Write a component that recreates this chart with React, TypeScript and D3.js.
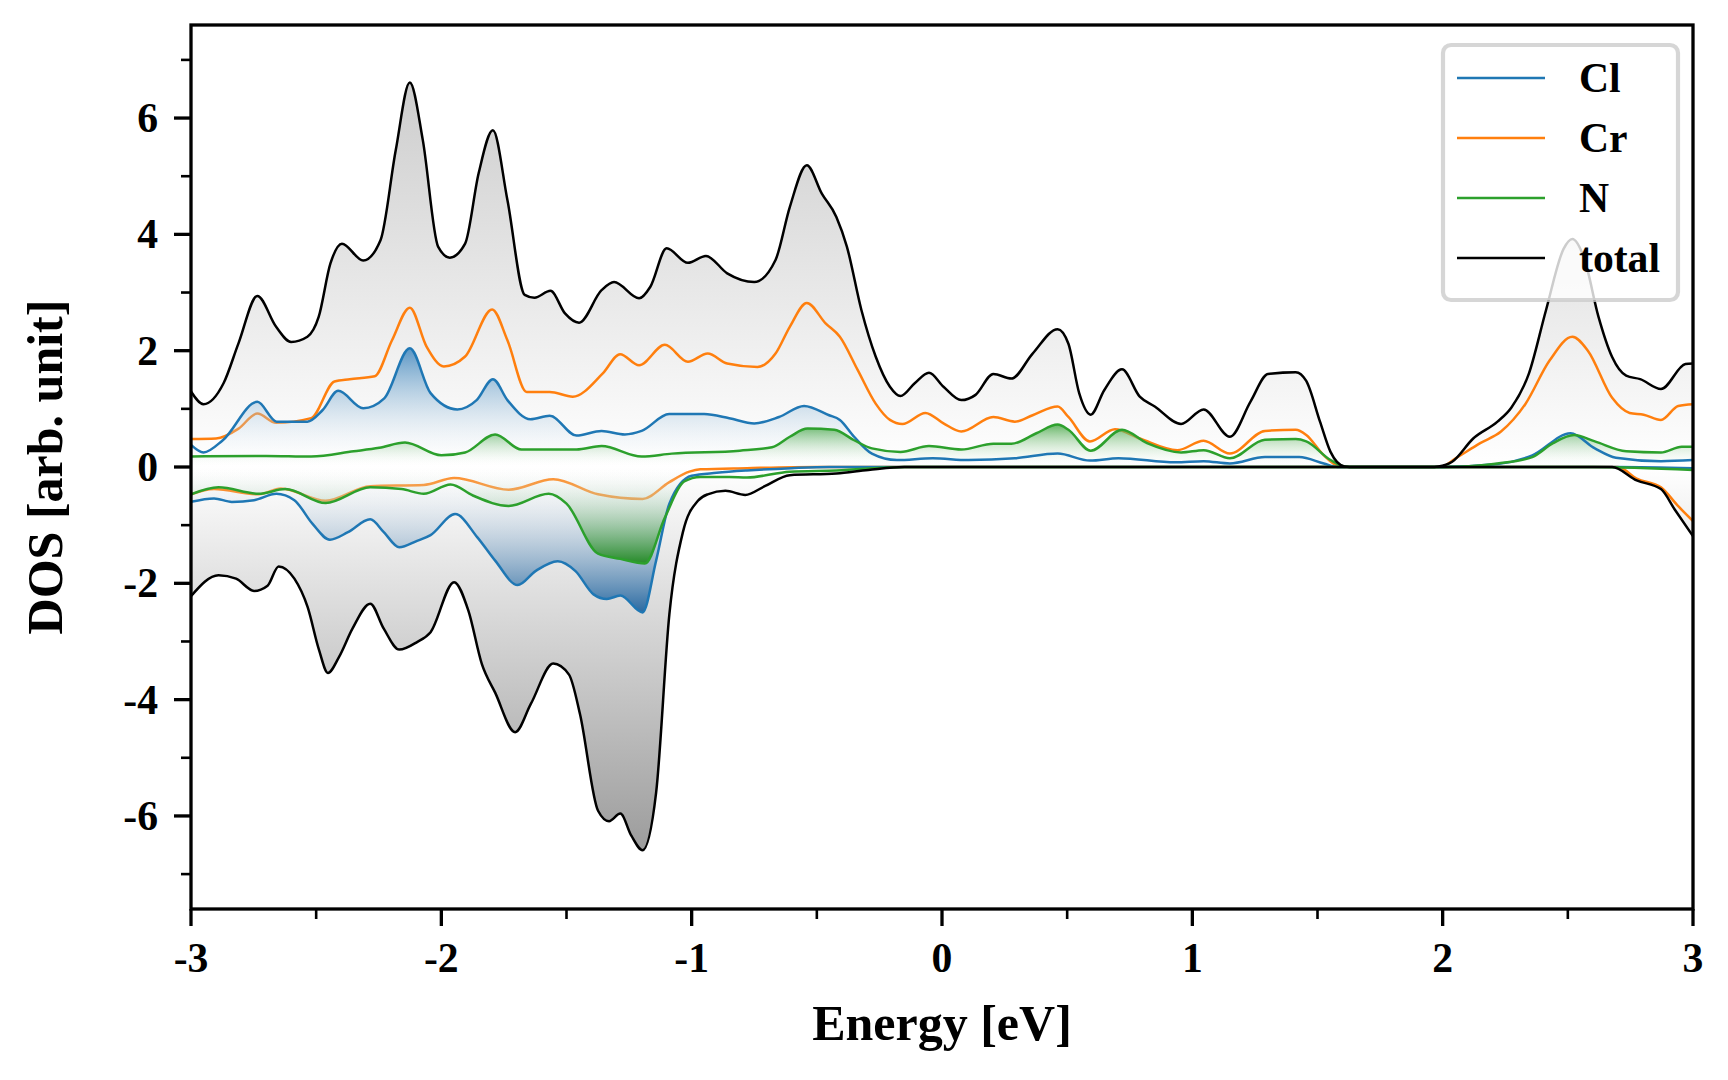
import * as d3 from "d3";

type Pt = [number, number];

// energies [eV] and DOS values
const totalUp: Pt[] = [
  [-3.0, 1.3], [-2.95, 1.08], [-2.87, 1.44], [-2.81, 2.13], [-2.735, 2.94], [-2.66, 2.41],
  [-2.6, 2.15], [-2.535, 2.24], [-2.49, 2.58], [-2.443, 3.5], [-2.397, 3.84], [-2.312, 3.55],
  [-2.243, 3.9], [-2.182, 5.45], [-2.126, 6.61], [-2.074, 5.62], [-2.013, 3.79], [-1.966, 3.6],
  [-1.905, 3.84], [-1.851, 5.05], [-1.794, 5.79], [-1.736, 4.59], [-1.667, 2.96], [-1.628, 2.91],
  [-1.564, 3.03], [-1.506, 2.64], [-1.45, 2.48], [-1.36, 3.04], [-1.31, 3.18], [-1.21, 2.9],
  [-1.165, 3.1], [-1.1, 3.76], [-1.015, 3.51], [-0.943, 3.63], [-0.858, 3.33], [-0.75, 3.18],
  [-0.665, 3.56], [-0.608, 4.47], [-0.54, 5.19], [-0.48, 4.7], [-0.422, 4.3], [-0.38, 3.79],
  [-0.322, 2.7], [-0.265, 1.9], [-0.208, 1.38], [-0.166, 1.22], [-0.109, 1.44], [-0.052, 1.62],
  [0.006, 1.38], [0.077, 1.15], [0.134, 1.24], [0.205, 1.6], [0.277, 1.52], [0.362, 1.95],
  [0.462, 2.37], [0.505, 2.12], [0.548, 1.27], [0.594, 0.9], [0.648, 1.32], [0.719, 1.68],
  [0.79, 1.21], [0.85, 1.04], [0.955, 0.74], [1.045, 0.99], [1.15, 0.52], [1.233, 1.13],
  [1.302, 1.6], [1.413, 1.63], [1.455, 1.48], [1.51, 0.78], [1.552, 0.26], [1.608, 0.01],
  [1.65, 0], [1.95, 0], [1.983, 0.01], [2.038, 0.09], [2.122, 0.49], [2.219, 0.78],
  [2.274, 1.02], [2.344, 1.6], [2.413, 2.7], [2.483, 3.75], [2.518, 3.92], [2.566, 3.58],
  [2.622, 2.59], [2.677, 1.89], [2.733, 1.57], [2.789, 1.51], [2.872, 1.34], [2.97, 1.77],
  [3.0, 1.78],
];

const totalDown: Pt[] = [
  [-3.0, -2.22], [-2.89, -1.86], [-2.82, -1.92], [-2.748, -2.13], [-2.694, -2.04], [-2.65, -1.71],
  [-2.587, -1.92], [-2.534, -2.41], [-2.489, -3.14], [-2.453, -3.54], [-2.409, -3.27],
  [-2.355, -2.78], [-2.284, -2.35], [-2.23, -2.78], [-2.168, -3.14], [-2.097, -3.01],
  [-2.043, -2.84], [-1.949, -1.98], [-1.892, -2.47], [-1.838, -3.39], [-1.785, -3.88],
  [-1.705, -4.56], [-1.642, -4.07], [-1.553, -3.38], [-1.49, -3.57], [-1.446, -4.25],
  [-1.374, -5.91], [-1.33, -6.09], [-1.285, -5.96], [-1.241, -6.34], [-1.196, -6.59],
  [-1.142, -5.6], [-1.089, -2.53], [-1.035, -1.12], [-0.975, -0.58], [-0.936, -0.47],
  [-0.865, -0.41], [-0.786, -0.48], [-0.708, -0.33], [-0.608, -0.14], [-0.422, -0.11],
  [-0.294, -0.05], [-0.15, 0], [2.677, 0], [2.775, -0.23], [2.872, -0.38], [2.927, -0.73],
  [3.0, -1.19],
];

const crUp: Pt[] = [
  [-3.0, 0.48], [-2.9, 0.49], [-2.81, 0.66], [-2.735, 0.92], [-2.66, 0.76], [-2.52, 0.84],
  [-2.427, 1.47], [-2.366, 1.51], [-2.266, 1.56], [-2.197, 2.18], [-2.126, 2.74], [-2.059, 2.07],
  [-1.99, 1.73], [-1.905, 1.9], [-1.797, 2.71], [-1.736, 2.18], [-1.659, 1.29], [-1.567, 1.29],
  [-1.475, 1.21], [-1.355, 1.61], [-1.286, 1.94], [-1.21, 1.75], [-1.107, 2.1], [-1.015, 1.81],
  [-0.936, 1.95], [-0.858, 1.78], [-0.737, 1.72], [-0.665, 1.95], [-0.608, 2.41], [-0.54, 2.82],
  [-0.465, 2.47], [-0.408, 2.24], [-0.337, 1.67], [-0.265, 1.09], [-0.208, 0.81], [-0.158, 0.74],
  [-0.066, 0.93], [0.006, 0.75], [0.077, 0.61], [0.205, 0.86], [0.291, 0.78], [0.362, 0.89],
  [0.462, 1.04], [0.505, 0.86], [0.591, 0.44], [0.691, 0.65], [0.79, 0.49], [0.94, 0.29],
  [1.045, 0.45], [1.15, 0.23], [1.29, 0.62], [1.413, 0.64], [1.455, 0.55], [1.525, 0.2],
  [1.587, 0.01], [1.63, 0], [1.96, 0], [1.997, 0.01], [2.052, 0.15], [2.15, 0.41], [2.233, 0.61],
  [2.33, 1.08], [2.427, 1.83], [2.518, 2.24], [2.58, 2.0], [2.677, 1.19], [2.747, 0.93],
  [2.803, 0.9], [2.872, 0.81], [2.941, 1.05], [3.0, 1.08],
];

const crDown: Pt[] = [
  [-3.0, -0.47], [-2.908, -0.38], [-2.73, -0.47], [-2.641, -0.37], [-2.462, -0.58],
  [-2.284, -0.33], [-2.07, -0.31], [-1.949, -0.19], [-1.731, -0.39], [-1.553, -0.21],
  [-1.374, -0.47], [-1.196, -0.55], [-1.089, -0.26], [-1.009, -0.08], [-0.965, -0.04],
  [-0.779, -0.02], [-0.5, 0], [2.7, 0], [2.775, -0.2], [2.872, -0.35], [2.94, -0.67],
  [3.0, -0.93],
];

const clUp: Pt[] = [
  [-3.0, 0.38], [-2.95, 0.25], [-2.873, 0.46], [-2.735, 1.12], [-2.658, 0.78], [-2.535, 0.78],
  [-2.474, 0.98], [-2.412, 1.31], [-2.312, 1.01], [-2.228, 1.18], [-2.126, 2.04], [-2.043, 1.27],
  [-1.936, 0.99], [-1.859, 1.15], [-1.794, 1.51], [-1.736, 1.15], [-1.644, 0.82], [-1.567, 0.88],
  [-1.46, 0.54], [-1.36, 0.62], [-1.267, 0.56], [-1.2, 0.62], [-1.09, 0.91], [-0.95, 0.91],
  [-0.85, 0.84], [-0.75, 0.75], [-0.651, 0.86], [-0.551, 1.05], [-0.451, 0.89], [-0.408, 0.81],
  [-0.351, 0.52], [-0.28, 0.23], [-0.18, 0.12], [-0.037, 0.15], [0.105, 0.12], [0.291, 0.15],
  [0.462, 0.23], [0.591, 0.11], [0.705, 0.15], [0.933, 0.08], [1.045, 0.1], [1.15, 0.06],
  [1.29, 0.17], [1.427, 0.17], [1.525, 0.06], [1.58, 0], [2.0, 0], [2.219, 0.05], [2.358, 0.2],
  [2.511, 0.58], [2.608, 0.32], [2.692, 0.16], [2.872, 0.1], [3.0, 0.12],
];

const clDown: Pt[] = [
  [-3.0, -0.6], [-2.908, -0.54], [-2.837, -0.6], [-2.748, -0.57], [-2.659, -0.46],
  [-2.587, -0.57], [-2.516, -0.97], [-2.445, -1.25], [-2.373, -1.12], [-2.284, -0.9],
  [-2.23, -1.12], [-2.168, -1.38], [-2.097, -1.27], [-2.043, -1.17], [-1.945, -0.81],
  [-1.856, -1.21], [-1.785, -1.61], [-1.695, -2.03], [-1.624, -1.79], [-1.535, -1.62],
  [-1.464, -1.79], [-1.392, -2.19], [-1.339, -2.27], [-1.285, -2.21], [-1.196, -2.5],
  [-1.142, -1.61], [-1.089, -0.63], [-1.0, -0.15], [-0.9, -0.1], [-0.779, -0.06], [-0.6, -0.02],
  [-0.45, 0], [2.7, 0], [3.0, -0.02],
];

const nUp: Pt[] = [
  [-3.0, 0.18], [-2.7, 0.19], [-2.52, 0.18], [-2.35, 0.27], [-2.248, 0.33], [-2.145, 0.42],
  [-2.0, 0.2], [-1.905, 0.25], [-1.785, 0.56], [-1.68, 0.3], [-1.567, 0.3], [-1.46, 0.3],
  [-1.36, 0.36], [-1.2, 0.18], [-1.079, 0.23], [-0.808, 0.28], [-0.679, 0.34], [-0.608, 0.52],
  [-0.537, 0.66], [-0.43, 0.64], [-0.351, 0.46], [-0.28, 0.32], [-0.166, 0.26], [-0.052, 0.36],
  [0.077, 0.3], [0.205, 0.4], [0.277, 0.4], [0.377, 0.58], [0.462, 0.73], [0.505, 0.64],
  [0.594, 0.28], [0.719, 0.64], [0.819, 0.41], [0.955, 0.25], [1.045, 0.29], [1.15, 0.15],
  [1.29, 0.47], [1.413, 0.48], [1.455, 0.44], [1.552, 0.12], [1.608, 0.01], [1.65, 0],
  [2.02, 0], [2.219, 0.06], [2.358, 0.17], [2.441, 0.41], [2.525, 0.55], [2.608, 0.44],
  [2.733, 0.27], [2.872, 0.25], [2.955, 0.35], [3.0, 0.35],
];

const nDown: Pt[] = [
  [-3.0, -0.47], [-2.89, -0.35], [-2.73, -0.46], [-2.623, -0.38], [-2.462, -0.62],
  [-2.284, -0.35], [-2.159, -0.38], [-2.07, -0.46], [-1.963, -0.3], [-1.874, -0.49],
  [-1.731, -0.67], [-1.571, -0.46], [-1.5, -0.63], [-1.374, -1.49], [-1.285, -1.58],
  [-1.187, -1.66], [-1.107, -0.87], [-1.03, -0.25], [-0.965, -0.17], [-0.85, -0.17],
  [-0.779, -0.18], [-0.608, -0.08], [-0.422, -0.06], [-0.15, 0], [2.6, 0], [3.0, -0.05],
];

const legendNames = ["Cl", "Cr", "N", "total"];
const legendColors = ["#1f77b4", "#ff7f0e", "#2ca02c", "#000000"];

const xTicks = [-3, -2, -1, 0, 1, 2, 3];
const xMinor = [-2.5, -1.5, -0.5, 0.5, 1.5, 2.5];
const yTicks = [-6, -4, -2, 0, 2, 4, 6];
const yMinor = [-7, -5, -3, -1, 1, 3, 5, 7];

const W = 1728;
const H = 1080;
const plot = { left: 191, right: 1693, top: 25, bottom: 909 };
const font = "'Liberation Serif', 'Times New Roman', serif";

export default function App() {
  const x = d3.scaleLinear().domain([-3, 3]).range([plot.left, plot.right]);
  const y = d3.scaleLinear().domain([-7.6, 7.6]).range([plot.bottom, plot.top]);

  const line = d3
    .line<Pt>()
    .x((d) => x(d[0]))
    .y((d) => y(d[1]))
    .curve(d3.curveMonotoneX);
  const area = d3
    .area<Pt>()
    .x((d) => x(d[0]))
    .y0(y(0))
    .y1((d) => y(d[1]))
    .curve(d3.curveMonotoneX);

  const ext = (data: Pt[], up: boolean) =>
    up ? d3.max(data, (d) => d[1]) ?? 1 : d3.min(data, (d) => d[1]) ?? -1;

  const grads = [
    { id: "gTotUp", data: totalUp, up: true, c0: "#ffffff", o0: 1, c1: "#cdcdcd", o1: 1 },
    { id: "gTotDn", data: totalDown, up: false, c0: "#ffffff", o0: 1, c1: "#9c9c9c", o1: 1 },
    { id: "gClUp", data: clUp, up: true, c0: "#ffffff", o0: 0, c1: "#3f86bd", o1: 0.85 },
    { id: "gClDn", data: clDown, up: false, c0: "#ffffff", o0: 0, c1: "#2466a0", o1: 0.97 },
    { id: "gNUp", data: nUp, up: true, c0: "#ffffff", o0: 0, c1: "#3fa43f", o1: 0.8 },
    { id: "gNDn", data: nDown, up: false, c0: "#ffffff", o0: 0, c1: "#238a23", o1: 0.97 },
  ];

  const lw = 2.5;
  const spine = 3.3;

  return (
    <svg
      width={W}
      height={H}
      style={{ position: "absolute", left: 0, top: 0, background: "#fff" }}
      fontFamily={font}
      fontWeight="bold"
    >
      <defs>
        {grads.map((g) => (
          <linearGradient
            key={g.id}
            id={g.id}
            gradientUnits="userSpaceOnUse"
            x1={0}
            x2={0}
            y1={y(0)}
            y2={y(ext(g.data, g.up))}
          >
            <stop offset="0" stopColor={g.c0} stopOpacity={g.o0} />
            <stop offset="1" stopColor={g.c1} stopOpacity={g.o1} />
          </linearGradient>
        ))}
        <clipPath id="plotClip">
          <rect x={plot.left} y={plot.top} width={plot.right - plot.left} height={plot.bottom - plot.top} />
        </clipPath>
      </defs>

      <g clipPath="url(#plotClip)">
        <path d={area(totalUp) ?? ""} fill="url(#gTotUp)" />
        <path d={area(totalDown) ?? ""} fill="url(#gTotDn)" />
        <path d={line(crUp) ?? ""} fill="none" stroke={legendColors[1]} strokeWidth={lw} />
        <path d={line(crDown) ?? ""} fill="none" stroke={legendColors[1]} strokeWidth={lw} />
        <path d={area(clUp) ?? ""} fill="url(#gClUp)" />
        <path d={area(clDown) ?? ""} fill="url(#gClDn)" />
        <path d={area(nUp) ?? ""} fill="url(#gNUp)" />
        <path d={area(nDown) ?? ""} fill="url(#gNDn)" />
        <path d={line(clUp) ?? ""} fill="none" stroke={legendColors[0]} strokeWidth={lw} />
        <path d={line(clDown) ?? ""} fill="none" stroke={legendColors[0]} strokeWidth={lw} />
        <path d={line(nUp) ?? ""} fill="none" stroke={legendColors[2]} strokeWidth={lw} />
        <path d={line(nDown) ?? ""} fill="none" stroke={legendColors[2]} strokeWidth={lw} />
        <path d={line(totalUp) ?? ""} fill="none" stroke="#000" strokeWidth={lw} />
        <path d={line(totalDown) ?? ""} fill="none" stroke="#000" strokeWidth={lw} />
      </g>

      {/* ticks */}
      <g stroke="#000">
        {xTicks.map((t) => (
          <line key={`xt${t}`} x1={x(t)} x2={x(t)} y1={plot.bottom} y2={plot.bottom + 17} strokeWidth={spine} />
        ))}
        {xMinor.map((t) => (
          <line key={`xm${t}`} x1={x(t)} x2={x(t)} y1={plot.bottom} y2={plot.bottom + 10} strokeWidth={2.6} />
        ))}
        {yTicks.map((t) => (
          <line key={`yt${t}`} x1={plot.left - 17} x2={plot.left} y1={y(t)} y2={y(t)} strokeWidth={spine} />
        ))}
        {yMinor.map((t) => (
          <line key={`ym${t}`} x1={plot.left - 10} x2={plot.left} y1={y(t)} y2={y(t)} strokeWidth={2.6} />
        ))}
      </g>

      <rect
        x={plot.left}
        y={plot.top}
        width={plot.right - plot.left}
        height={plot.bottom - plot.top}
        fill="none"
        stroke="#000"
        strokeWidth={spine}
      />

      {/* tick labels */}
      <g fontSize={41.7} fill="#000">
        {xTicks.map((t) => (
          <text key={`xl${t}`} x={x(t)} y={972} textAnchor="middle">
            {t < 0 ? `-${Math.abs(t)}` : `${t}`}
          </text>
        ))}
        {yTicks.map((t) => (
          <text key={`yl${t}`} x={158} y={y(t) + 14} textAnchor="end">
            {t < 0 ? `-${Math.abs(t)}` : `${t}`}
          </text>
        ))}
      </g>

      <text x={x(0)} y={1040} textAnchor="middle" fontSize={50}>
        Energy [eV]
      </text>
      <text
        transform={`translate(62,${y(0)}) rotate(-90)`}
        textAnchor="middle"
        fontSize={50}
      >
        DOS [arb. unit]
      </text>

      {/* legend */}
      <g>
        <rect
          x={1443}
          y={45}
          width={235}
          height={255}
          rx={8}
          fill="#fff"
          fillOpacity={0.8}
          stroke="#cccccc"
          strokeOpacity={0.8}
          strokeWidth={4.2}
        />
        {legendNames.map((name, i) => {
          const ry = 78 + i * 60;
          return (
            <g key={name}>
              <line x1={1457} x2={1545} y1={ry} y2={ry} stroke={legendColors[i]} strokeWidth={lw} />
              <text x={1579} y={ry + 14} fontSize={41.7} fill="#000">
                {name}
              </text>
            </g>
          );
        })}
      </g>
    </svg>
  );
}
